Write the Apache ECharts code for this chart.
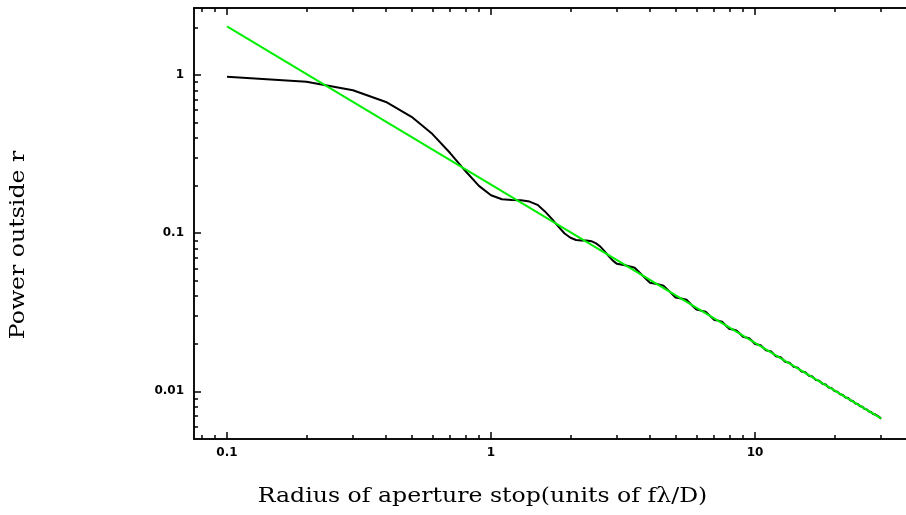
<!DOCTYPE html>
<html><head><meta charset="utf-8">
<script src="https://cdn.jsdelivr.net/npm/echarts@6/dist/echarts.min.js"></script>
<style>html,body{margin:0;padding:0;background:#fff}#c{width:906px;height:515px}</style>
</head><body><div id="c"></div>
<script>
// Black curve: power outside radius r
const radius = [
  0.1,0.2,0.3,0.4,0.5,0.6,0.7,0.8,0.9,1.0,
  1.1,1.2,1.3,1.4,1.5,1.6,1.7,1.8,1.9,2.0,
  2.1,2.2,2.3,2.4,2.5,2.6,2.7,2.8,2.9,3.0,
  3.25,3.5,3.75,4.0,4.25,4.5,4.75,5.0,5.25,5.5,5.75,6.0,6.25,6.5,6.75,7.0,
  7.25,7.5,7.75,8.0,8.25,8.5,8.75,9.0,9.25,9.5,9.75,10.0,
  10.5,11,11.5,12,12.5,13,13.5,14,14.5,15,15.5,16,16.5,17,17.5,18,18.5,19,19.5,20,
  20.5,21,21.5,22,22.5,23,23.5,24,24.5,25,25.5,26,26.5,27,27.5,28,28.5,29,29.5,30
];
const powerOutside = [
  0.976,0.905,0.800,0.675,0.544,0.423,0.321,0.247,0.199,0.1735,
  0.1637,0.1621,0.1616,0.1583,0.1510,0.1372,0.1230,0.1100,0.0995,0.0936,
  0.0906,0.0900,0.0900,0.0890,0.0862,0.0820,0.0764,0.0711,0.0668,0.0640,
  0.0624,0.0605,0.0540,0.0486,0.0477,0.0466,0.0427,0.0392,0.0386,0.0379,0.0352,0.0329,0.0324,0.0319,0.0300,0.0283,
  0.0280,0.0276,0.0261,0.0248,0.0246,0.0243,0.0232,0.0221,0.0219,0.0217,0.0208,0.0199,
  0.01959,0.01816,0.01786,0.01666,0.01642,0.01540,0.01519,0.01431,0.01413,0.01337,0.01321,0.01254,0.01240,0.01181,0.01169,0.01116,0.01105,0.01058,0.01048,0.01005,
  0.009962,0.009577,0.009495,0.009144,0.009070,0.008750,0.008681,0.008387,0.008325,0.008054,0.007997,0.007746,0.007693,0.007461,0.007412,0.007196,0.007150,0.006950,0.006906,0.006719
];
// Green asymptote line
const asymptoteRadius = [0.1, 30];
const asymptotePower = [2.026, 0.006755];

const xMajorTicks = [0.1, 1, 10];
const xMajorLabels = ['0.1', '1', '10'];
const xMinorTicks = [0.08,0.09,0.2,0.3,0.4,0.5,0.6,0.7,0.8,0.9,2,3,4,5,6,7,8,9,20,30];
const yMajorTicks = [0.01, 0.1, 1];
const yMajorLabels = ['0.01', '0.1', '1'];
const yMinorTicks = [0.006,0.007,0.008,0.009,0.02,0.03,0.04,0.05,0.06,0.07,0.08,0.09,0.2,0.3,0.4,0.5,0.6,0.7,0.8,0.9,2];

const xTitle = 'Radius of aperture stop(units of f\u03bb/D)';
const yTitle = 'Power outside r';

function labelOf(ticks, labels) {
  return function (v) {
    for (let i = 0; i < ticks.length; i++) {
      if (Math.abs(Math.log10(ticks[i]) - Math.log10(v)) < 1e-6) return labels[i];
    }
    return '';
  };
}
const lineStyle = { color: '#000', width: 1.5 };
const labelStyle = { color: '#000', fontFamily: 'DejaVu Sans', fontWeight: 'bold', fontSize: 12 };

function xAx(pos, ticks, len, withLabels) {
  return {
    type: 'log', logBase: 10, min: 0.075, max: 40, position: pos,
    axisLine: { show: true, onZero: false, lineStyle: lineStyle },
    axisTick: { show: true, inside: true, length: len, customValues: ticks, lineStyle: lineStyle },
    axisLabel: withLabels ? Object.assign({ show: true, margin: 8, customValues: xMajorTicks, formatter: labelOf(xMajorTicks, xMajorLabels) }, labelStyle) : { show: false },
    splitLine: { show: false }, minorTick: { show: false }
  };
}
function yAx(pos, ticks, len, withLabels) {
  return {
    type: 'log', logBase: 10, min: 0.005, max: 2.65, position: pos,
    axisLine: { show: true, onZero: false, lineStyle: lineStyle },
    axisTick: { show: true, inside: true, length: len, customValues: ticks, lineStyle: lineStyle },
    axisLabel: withLabels ? Object.assign({ show: true, margin: 10, customValues: yMajorTicks, formatter: labelOf(yMajorTicks, yMajorLabels) }, labelStyle) : { show: false },
    splitLine: { show: false }, minorTick: { show: false }
  };
}

const chart = echarts.init(document.getElementById('c'), null, { renderer: 'canvas' });
chart.setOption({
  animation: false,
  backgroundColor: '#fff',
  grid: { left: 194, top: 8, right: -8, bottom: 76, containLabel: false, outerBoundsMode: 'none' },
  xAxis: [
    xAx('bottom', xMajorTicks, 7, true),
    xAx('top', xMajorTicks, 7, false),
    xAx('bottom', xMinorTicks, 4, false),
    xAx('top', xMinorTicks, 4, false)
  ],
  yAxis: [
    yAx('left', yMajorTicks, 7, true),
    yAx('right', yMajorTicks, 7, false),
    yAx('left', yMinorTicks, 4, false),
    yAx('right', yMinorTicks, 4, false)
  ],
  series: [
    {
      type: 'line', xAxisIndex: 0, yAxisIndex: 0, showSymbol: false, symbol: 'none',
      data: radius.map((r, i) => [r, powerOutside[i]]),
      lineStyle: { color: '#000', width: 2 }, z: 2
    },
    {
      type: 'line', xAxisIndex: 0, yAxisIndex: 0, showSymbol: false, symbol: 'none',
      data: asymptoteRadius.map((r, i) => [r, asymptotePower[i]]),
      lineStyle: { color: '#00ee00', width: 2 }, z: 3
    }
  ],
  graphic: [
    { type: 'text', x: 482.5, y: 497, scaleX: 1.18, style: { text: xTitle, font: '20px "DejaVu Serif"', fill: '#000', textAlign: 'center', textVerticalAlign: 'middle' } },
    { type: 'text', x: 19, y: 245, rotation: Math.PI / 2, scaleX: 1.18, style: { text: yTitle, font: '20px "DejaVu Serif"', fill: '#000', textAlign: 'center', textVerticalAlign: 'middle' } }
  ]
});
</script>
</body></html>
